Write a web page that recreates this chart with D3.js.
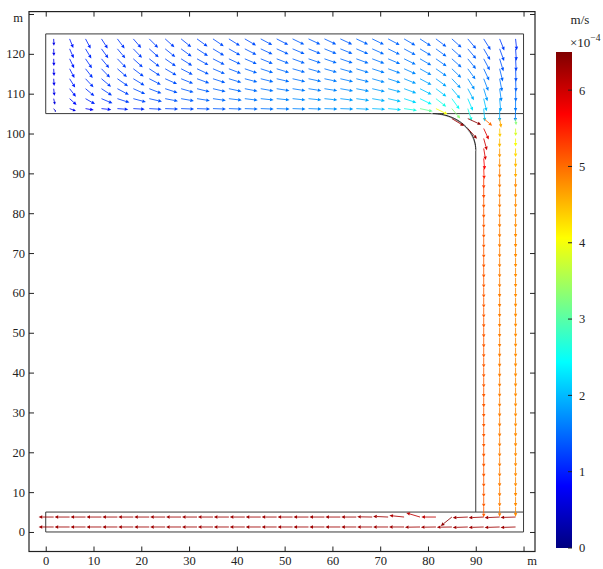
<!DOCTYPE html>
<html>
<head>
<meta charset="utf-8">
<script src="https://cdn.jsdelivr.net/npm/d3@7/dist/d3.min.js"></script>
<style>
  body { margin: 0; background: #fff; }
  svg { display: block; }
</style>
</head>
<body>
<svg id="chart" width="603" height="569"></svg>
<script>
// ---------- sampling grid (m) ----------
const gridX = [1.667, 5, 8.333, 11.667, 15, 18.333, 21.667, 25, 28.333, 31.667,
  35, 38.333, 41.667, 45, 48.333, 51.667, 55, 58.333, 61.667, 65,
  68.333, 71.667, 75, 78.333, 81.667, 85, 88.333, 91.667, 95, 98.333];
const reservoirY = [123.75, 121.25, 118.75, 116.25, 113.75, 111.25, 108.75, 106.25];
const channelX = [91.667, 95, 98.333];
const channelY = [6.25, 8.75, 11.25, 13.75, 16.25, 18.75, 21.25, 23.75, 26.25, 28.75,
  31.25, 33.75, 36.25, 38.75, 41.25, 43.75, 46.25, 48.75, 51.25, 53.75,
  56.25, 58.75, 61.25, 63.75, 66.25, 68.75, 71.25, 73.75, 76.25, 78.75,
  81.25, 83.75, 86.25, 88.75, 91.25, 93.75, 96.25, 98.75, 101.25, 103.75];
const drainY = [3.75, 1.25];

// ---------- reservoir field: direction (deg) and speed (1e-4 m/s), one row per y ----------
const reservoirAngle = [
  [-88,-68,-62,-57,-53,-49,-45,-42,-39,-36,-34,-32,-30,-28,-27,-26,-25,-25,-25,-25,-26,-28,-30,-33,-37,-42,-50,-58,-68,-84],
  [-88,-66,-59,-54,-50,-46,-42,-39,-36,-33,-31,-29,-27,-25,-24,-23,-22,-22,-22,-23,-24,-26,-28,-31,-36,-42,-50,-60,-70,-86],
  [-88,-64,-56,-50,-46,-42,-38,-35,-32,-29,-27,-25,-23,-22,-21,-20,-19,-19,-19,-20,-21,-23,-26,-30,-35,-42,-51,-62,-73,-87],
  [-87,-62,-52,-46,-41,-37,-33,-30,-27,-25,-23,-21,-19,-18,-17,-16,-16,-16,-16,-17,-18,-20,-24,-29,-35,-44,-54,-65,-76,-88],
  [-86,-58,-47,-40,-35,-31,-27,-24,-22,-20,-18,-17,-15,-14,-13,-13,-12,-12,-13,-14,-16,-18,-22,-28,-36,-47,-58,-69,-79,-88],
  [-84,-52,-40,-33,-28,-24,-21,-18,-16,-14,-13,-12,-11,-10,-9,-9,-9,-9,-10,-11,-13,-15,-20,-27,-37,-50,-62,-73,-82,-89],
  [-78,-42,-30,-23,-18,-15,-13,-11,-10,-9,-8,-7,-7,-6,-6,-6,-6,-6,-7,-8,-10,-13,-18,-26,-38,-54,-67,-77,-85,-90],
  [-55,-20,-10,-6,-4,-3,-3,-2,-2,-2,-2,-2,-2,-2,-2,-2,-2,-2,-2,-3,-3,-5,-8,-12,-26,-50,-72,-85,-90,-91]
];
const reservoirSpeed = [
  [0.65,0.95,1.05,1.1,1.15,1.15,1.2,1.2,1.25,1.25,1.3,1.3,1.3,1.35,1.35,1.4,1.4,1.4,1.4,1.45,1.45,1.45,1.45,1.45,1.4,1.4,1.35,1.3,1.2,1.1],
  [0.68,0.98,1.08,1.12,1.18,1.2,1.22,1.25,1.28,1.3,1.32,1.35,1.35,1.38,1.4,1.42,1.42,1.45,1.45,1.48,1.5,1.5,1.5,1.5,1.48,1.45,1.4,1.35,1.28,1.15],
  [0.7,1.0,1.1,1.15,1.2,1.22,1.25,1.28,1.3,1.32,1.35,1.38,1.4,1.42,1.45,1.45,1.48,1.5,1.5,1.52,1.55,1.55,1.58,1.58,1.55,1.52,1.48,1.42,1.35,1.2],
  [0.7,1.0,1.12,1.18,1.22,1.25,1.28,1.3,1.33,1.36,1.4,1.42,1.45,1.48,1.5,1.5,1.52,1.55,1.57,1.6,1.62,1.65,1.68,1.7,1.68,1.65,1.6,1.52,1.45,1.3],
  [0.7,1.0,1.12,1.2,1.25,1.28,1.3,1.33,1.36,1.4,1.42,1.45,1.48,1.5,1.52,1.55,1.57,1.6,1.62,1.65,1.7,1.75,1.8,1.85,1.85,1.8,1.75,1.65,1.55,1.4],
  [0.68,0.98,1.1,1.2,1.25,1.3,1.33,1.36,1.4,1.43,1.46,1.5,1.52,1.55,1.58,1.6,1.62,1.66,1.7,1.75,1.8,1.88,1.95,2.05,2.1,2.05,1.95,1.8,1.7,1.5],
  [0.6,0.9,1.05,1.15,1.22,1.28,1.33,1.38,1.42,1.46,1.5,1.54,1.58,1.62,1.66,1.7,1.74,1.78,1.82,1.88,1.95,2.05,2.2,2.4,2.6,2.5,2.3,2.05,1.85,1.6],
  [0.4,0.65,0.8,0.95,1.05,1.1,1.2,1.25,1.3,1.35,1.4,1.45,1.5,1.55,1.6,1.65,1.7,1.75,1.8,1.9,2.0,2.2,2.6,3.1,4.0,3.3,2.6,2.1,1.9,1.6]
];

// ---------- vertical channel field (one list per column, bottom to top) ----------
const channelSpeed = [
  [5.1,5.1,5.1,5.1,5.1,5.1,5.1,5.1,5.1,5.1,5.1,5.1,5.1,5.1,5.1,5.1,5.1,5.1,5.1,5.1,
   5.1,5.1,5.1,5.1,5.1,5.1,5.1,5.1,5.1,5.1,5.1,5.1,5.2,5.3,5.5,5.7,5.9,6.0,5.9,5.0],
  [4.9,4.9,4.9,4.9,4.9,4.9,4.9,4.9,4.9,4.9,4.9,4.9,4.9,4.9,4.9,4.9,4.9,4.9,4.9,4.9,
   4.9,4.9,4.9,4.9,4.9,4.9,4.9,4.9,4.9,4.9,4.9,4.9,4.9,4.9,4.9,4.8,4.7,4.5,4.4,4.6],
  [4.8,4.8,4.8,4.8,4.8,4.8,4.8,4.8,4.8,4.8,4.8,4.8,4.8,4.8,4.8,4.8,4.8,4.8,4.8,4.8,
   4.8,4.8,4.8,4.8,4.8,4.8,4.8,4.8,4.8,4.8,4.8,4.8,4.8,4.8,4.6,4.5,4.3,4.0,3.8,3.3]
];
const channelAngle = [
  [-90,-90,-90,-90,-90,-90,-90,-90,-90,-90,-90,-90,-90,-90,-90,-90,-90,-90,-90,-90,
   -90,-90,-90,-90,-90,-90,-90,-90,-90,-90,-90,-90,-90,-90,-88,-86,-82,-77,-69,-45],
  [-90,-90,-90,-90,-90,-90,-90,-90,-90,-90,-90,-90,-90,-90,-90,-90,-90,-90,-90,-90,
   -90,-90,-90,-90,-90,-90,-90,-90,-90,-90,-90,-90,-90,-90,-90,-90,-90,-90,-88,-82],
  [-90,-90,-90,-90,-90,-90,-90,-90,-90,-90,-90,-90,-90,-90,-90,-90,-90,-90,-90,-90,
   -90,-90,-90,-90,-90,-90,-90,-90,-90,-90,-90,-90,-90,-90,-90,-90,-90,-90,-89,-86]
];

// ---------- bottom drain field (upper row, lower row) ----------
const drainAngle = [
  [180,180,180,180,180,180,180,180,180,180,180,180,180,180,180,180,180,180,180,180,179,177,173,160,180,224,183,183,183,182],
  [180,180,180,180,180,180,180,180,180,180,180,180,180,180,180,180,180,180,180,180,180,180,180,181,181,181,182,182,182,182]
];
const drainSpeed = [
  [6.3,6.3,6.3,6.3,6.3,6.3,6.3,6.3,6.3,6.3,6.3,6.3,6.3,6.3,6.3,6.3,6.3,6.3,6.3,6.3,6.3,6.3,6.2,6.1,6.1,6.4,6.3,6.3,6.3,6.3],
  [6.3,6.3,6.3,6.3,6.3,6.3,6.3,6.3,6.3,6.3,6.3,6.3,6.3,6.3,6.3,6.3,6.3,6.3,6.3,6.3,6.3,6.3,6.3,6.3,6.3,6.3,6.3,6.3,6.3,6.3]
];

// ---------- samples inside the rounded corner ----------
const cornerX = [85.0, 88.333, 88.333];
const cornerY = [103.75, 103.75, 101.25];
const cornerAngle = [-36, -29, -53];
const cornerSpeed = [6.3, 6.4, 6.4];

// ---------- axes / colour legend ----------
const xTicks = [0, 10, 20, 30, 40, 50, 60, 70, 80, 90, 100];
const yTicks = [0, 10, 20, 30, 40, 50, 60, 70, 80, 90, 100, 110, 120, 130];
const legendTicks = [0, 1, 2, 3, 4, 5, 6];
const speedMax = 6.5;
const jetStops = [0, 0.125, 0.375, 0.625, 0.875, 1];
const jetColors = ["#00007f", "#0000ff", "#00ffff", "#ffff00", "#ff0000", "#7f0000"];

// ---------- scales ----------
const svg = d3.select("#chart");
const x = d3.scaleLinear().domain([-3.5, 102.4]).range([29, 535]);
const y = d3.scaleLinear().domain([-4.9, 130.6]).range([551.5, 11.6]);
const color = d3.scaleLinear().domain(jetStops.map(t => t * speedMax)).range(jetColors).clamp(true);
// reservoir arrows: screen length grows with speed, then saturates
const reservoirLen = d3.scaleLinear().domain([0, 1.25]).range([0, 13]).clamp(true);
// channel arrows: proportional length in model units
const channelScale = 0.5;

const serif = "'Liberation Serif', 'DejaVu Serif', serif";

// ---------- geometry outline ----------
const geo = svg.append("g").attr("fill", "none").attr("stroke", "#3a3a3a").attr("stroke-width", 1);
const line = d3.line().x(d => x(d[0])).y(d => y(d[1]));
geo.append("path").attr("d", line([[0,105],[100,105],[100,125],[0,125],[0,105]]));
geo.append("path").attr("d", line([[0,0],[100,0],[100,5],[0,5],[0,0]]));
geo.append("path").attr("d", line([[100,5],[100,105]]));
geo.append("path").attr("d", line([[90,5],[90,96]]));
const arc = (cx, cy, r) => d3.range(0, 91, 3).map(a => [cx + r * Math.cos(a * Math.PI / 180), cy + r * Math.sin(a * Math.PI / 180)]);
geo.append("path").attr("d", line(arc(80.6, 95.6, 9.4))).attr("stroke", "#9a9a9a");
geo.append("path").attr("d", line(arc(81, 96, 9))).attr("stroke", "#222");

// ---------- arrows ----------
const arrows = svg.append("g");
function drawArrow(x0, y0, x1, y1, c) {
  const dx = x1 - x0, dy = y1 - y0, L = Math.hypot(dx, dy);
  if (L < 0.5) return;
  const ux = dx / L, uy = dy / L;
  const h = Math.min(3.6, L * 0.45), w = Math.min(1.7, L * 0.22);
  const bx = x1 - ux * h, by = y1 - uy * h;
  arrows.append("line").attr("x1", x0).attr("y1", y0).attr("x2", bx).attr("y2", by)
    .attr("stroke", c).attr("stroke-width", 0.85);
  arrows.append("path")
    .attr("d", `M${x1},${y1}L${bx - uy * w},${by + ux * w}L${bx + uy * w},${by - ux * w}Z`)
    .attr("fill", c);
}
// reservoir (screen-space directions)
reservoirY.forEach((yy, r) => {
  gridX.forEach((xx, i) => {
    const s = reservoirSpeed[r][i], a = reservoirAngle[r][i] * Math.PI / 180;
    const L = reservoirLen(s);
    const px = x(xx), py = y(yy);
    drawArrow(px, py, px + L * Math.cos(a), py - L * Math.sin(a), color(s));
  });
});
// model-space arrows
function modelArrow(xx, yy, s, deg) {
  const a = deg * Math.PI / 180;
  drawArrow(x(xx), y(yy), x(xx + channelScale * s * Math.cos(a)), y(yy + channelScale * s * Math.sin(a)), color(s));
}
channelX.forEach((xx, c) => channelY.forEach((yy, r) => modelArrow(xx, yy, channelSpeed[c][r], channelAngle[c][r])));
drainY.forEach((yy, r) => gridX.forEach((xx, i) => modelArrow(xx, yy, drainSpeed[r][i], drainAngle[r][i])));
cornerX.forEach((xx, i) => modelArrow(xx, cornerY[i], cornerSpeed[i], cornerAngle[i]));

// ---------- frame and axes ----------
svg.append("rect").attr("x", 29).attr("y", 11.6).attr("width", 506).attr("height", 539.9)
  .attr("fill", "none").attr("stroke", "#222").attr("stroke-width", 1.2);

const styleAxis = g => {
  g.select(".domain").remove();
  g.selectAll(".tick line").attr("stroke", "#222");
  g.selectAll("text").attr("font-family", serif).attr("font-size", 12.5).attr("fill", "#222");
};
svg.append("g").attr("transform", "translate(0,551.5)")
  .call(d3.axisBottom(x).tickValues(xTicks).tickSize(-5).tickPadding(5).tickFormat(d => d === 100 ? "m" : d))
  .call(styleAxis)
  .call(g => g.selectAll(".tick text").filter(d => d === 100).attr("dx", 8));
svg.append("g").attr("transform", "translate(29,0)")
  .call(d3.axisLeft(y).tickValues(yTicks).tickSize(-5).tickPadding(4).tickFormat(d => d === 130 ? "m" : d))
  .call(styleAxis)
  .call(g => g.selectAll(".tick text").filter(d => d === 130).attr("dy", "0.6em").attr("dx", -2));
svg.append("g").attr("transform", "translate(0,11.6)")
  .call(d3.axisTop(x).tickValues(xTicks).tickSize(-5).tickFormat(""))
  .call(styleAxis);
svg.append("g").attr("transform", "translate(535,0)")
  .call(d3.axisRight(y).tickValues(yTicks).tickSize(-5).tickFormat(""))
  .call(styleAxis);

// ---------- colour legend ----------
const cb = { x: 556, w: 16, top: 52, bottom: 548 };
const cy = d3.scaleLinear().domain([0, speedMax]).range([cb.bottom, cb.top]);
const grad = svg.append("defs").append("linearGradient").attr("id", "jet")
  .attr("x1", 0).attr("y1", 1).attr("x2", 0).attr("y2", 0);
jetStops.forEach((t, i) => grad.append("stop").attr("offset", t).attr("stop-color", jetColors[i]));
svg.append("rect").attr("x", cb.x).attr("y", cb.top).attr("width", cb.w).attr("height", cb.bottom - cb.top)
  .attr("fill", "url(#jet)");
const leg = svg.append("g");
legendTicks.forEach(v => {
  leg.append("line").attr("x1", cb.x + cb.w - 4).attr("x2", cb.x + cb.w)
    .attr("y1", cy(v)).attr("y2", cy(v)).attr("stroke", "#222");
  leg.append("text").attr("x", cb.x + cb.w + 7).attr("y", cy(v)).attr("dy", "0.35em")
    .attr("font-family", serif).attr("font-size", 12.5).attr("fill", "#222").text(v);
});
leg.append("text").attr("x", 580).attr("y", 24).attr("text-anchor", "middle")
  .attr("font-family", serif).attr("font-size", 13).attr("fill", "#222").text("m/s");
const exp = leg.append("text").attr("x", 570).attr("y", 47)
  .attr("font-family", serif).attr("font-size", 13).attr("fill", "#222");
exp.append("tspan").text("\u00d710");
exp.append("tspan").attr("dy", -6).attr("font-size", 9.5).text("\u22124");
</script>
</body>
</html>
